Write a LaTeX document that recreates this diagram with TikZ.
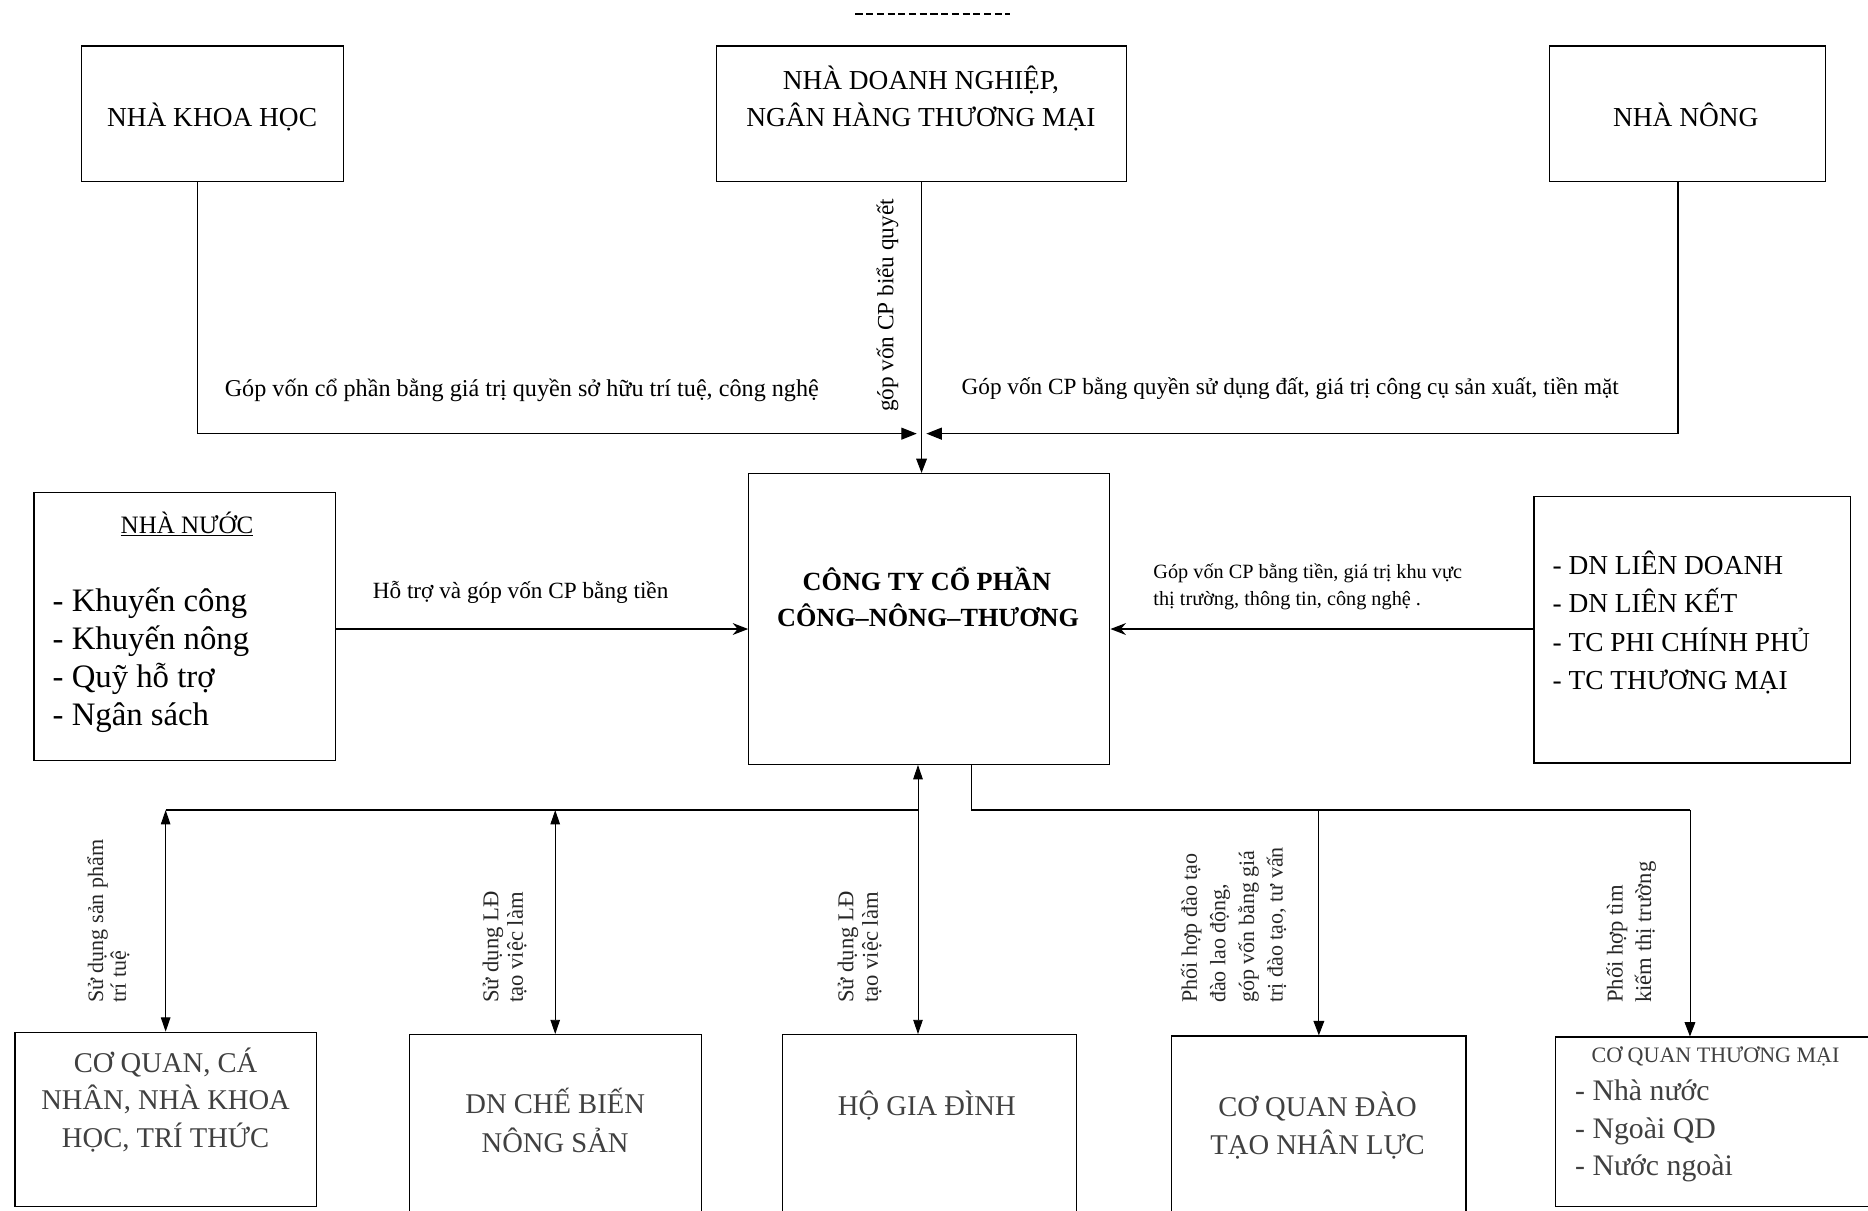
\documentclass[tikz,border=0pt]{standalone}
\usepackage{fontspec}
\setmainfont{Liberation Serif}
\usetikzlibrary{arrows.meta,calc}
\begin{document}
\begin{tikzpicture}[x=1pt,y=-1pt,
  box/.style={draw,line width=1.1pt,inner sep=0pt,anchor=north west},
  t/.style={inner sep=0pt,anchor=base},
  tl/.style={inner sep=0pt,anchor=base west},
  fA/.style={font=\fontsize{23}{27}\selectfont},
  fB/.style={font=\fontsize{22}{26}\selectfont\bfseries},
  fC/.style={font=\fontsize{21}{25}\selectfont},
  fD/.style={font=\fontsize{27.5}{31}\selectfont},
  fE/.style={font=\fontsize{24}{28}\selectfont},
  fL/.style={font=\fontsize{19.5}{23}\selectfont},
  fS/.style={font=\fontsize{17}{22}\selectfont},
  vl/.style={inner sep=0pt,rotate=90,anchor=north west,align=left,text=black!85},
  gr/.style={text=black!75},
  ln/.style={line width=1.1pt},
  arr/.style={ln,-{Triangle[length=13pt,width=10pt]}},
  arrs/.style={ln,-{Stealth[length=13pt,width=10pt]}},
  dbl/.style={line width=0.8pt,{Triangle[length=12pt,width=8pt]}-{Triangle[length=12pt,width=8pt]}},
  arrv/.style={line width=0.8pt,-{Triangle[length=12pt,width=9pt]}}
]
\useasboundingbox (0,0) rectangle (1568,1016);

% top dashes
\draw[line width=1.8pt,dash pattern=on 6pt off 3pt] (718,12) -- (848,12);

% top boxes
\node[box,minimum width=220pt,minimum height=114pt] (kh) at (68,38) {};
\node[t,fA] at (178,106) {NHÀ KHOA HỌC};
\node[box,minimum width=344pt,minimum height=114pt] (dn) at (601,38) {};
\node[t,fA] at (773,75) {NHÀ DOANH NGHIỆP,};
\node[t,fA] at (773,106) {NGÂN HÀNG THƯƠNG MẠI};
\node[box,minimum width=232pt,minimum height=114pt] (nn) at (1300,38) {};
\node[t,fA] at (1415,106) {NHÀ NÔNG};

% central box
\node[box,minimum width=303pt,minimum height=244pt] (ct) at (628,397) {};
\node[t,fB] at (778,496) {CÔNG TY CỔ PHẦN};
\node[t,fB] at (779,526) {CÔNG–NÔNG–THƯƠNG};

% left box
\node[box,minimum width=253pt,minimum height=225pt] (nuoc) at (28,413) {};
\node[t,fC] at (157,448) {\underline{NHÀ NƯỚC}};
\node[tl,fD] at (44,513) {- Khuyến công};
\node[tl,fD] at (44,545) {- Khuyến nông};
\node[tl,fD] at (44,577) {- Quỹ hỗ trợ};
\node[tl,fD] at (44,609) {- Ngân sách};

% right box
\node[box,minimum width=266pt,minimum height=224pt] (dnl) at (1287,416) {};
\node[tl,fA] at (1303,482) {- DN LIÊN DOANH};
\node[tl,fA] at (1303,514) {- DN LIÊN KẾT};
\node[tl,fA] at (1303,547) {- TC PHI CHÍNH PHỦ};
\node[tl,fA] at (1303,579) {- TC THƯƠNG MẠI};

% bottom boxes
\node[box,minimum width=253pt,minimum height=146pt] (b1) at (12,866) {};
\node[t,fE,gr] at (139,900) {CƠ QUAN, CÁ};
\node[t,fE,gr] at (139,931) {NHÂN, NHÀ KHOA};
\node[t,fE,gr] at (139,963) {HỌC, TRÍ THỨC};
\node[box,minimum width=245pt,minimum height=170pt] (b2) at (343,868) {};
\node[t,fE,gr] at (466,935) {DN CHẾ BIẾN};
\node[t,fE,gr] at (466,967) {NÔNG SẢN};
\node[box,minimum width=247pt,minimum height=170pt] (b3) at (656,868) {};
\node[t,fE,gr] at (778,936) {HỘ GIA ĐÌNH};
\node[box,minimum width=247pt,minimum height=170pt] (b4) at (983,869) {};
\node[t,fE,gr] at (1106,937) {CƠ QUAN ĐÀO};
\node[t,fE,gr] at (1106,969) {TẠO NHÂN LỰC};
\node[box,minimum width=280pt,minimum height=142pt] (b5) at (1305,870) {};
\node[t,font=\fontsize{18.5}{22}\selectfont,gr] at (1440,892) {CƠ QUAN THƯƠNG MẠI};
\node[tl,font=\fontsize{25}{29}\selectfont,gr] at (1322,924) {- Nhà nước};
\node[tl,font=\fontsize{25}{29}\selectfont,gr] at (1322,956) {- Ngoài QD};
\node[tl,font=\fontsize{25}{29}\selectfont,gr] at (1322,987) {- Nước ngoài};

% top connectors
\coordinate (j) at (dn.south |- 0,364);
\draw[arr] ([xshift=-13pt]kh.south) |- ([xshift=-4pt]j);
\draw[arr] ([xshift=-8pt]nn.south) |- ([xshift=4pt]j);
\draw[arrv] (dn.south) -- (dn.south |- ct.north);
\node[t,font=\fontsize{20.3}{23}\selectfont] at (438,333) {Góp vốn cổ phần bằng giá trị quyền sở hữu trí tuệ, công nghệ};
\node[t,fL] at (1083,331) {Góp vốn CP bằng quyền sử dụng đất, giá trị công cụ sản xuất, tiền mặt};
\node[inner sep=0pt,rotate=90,anchor=west,fL] at (745,346) {góp vốn CP biểu quyết};

% middle connectors
\draw[arrs] (nuoc.east |- 0,528) -- (ct.west |- 0,528);
\draw[arrs] (dnl.west |- 0,528) -- (ct.east |- 0,528);
\node[t,fL] at (437,502) {Hỗ trợ và góp vốn CP bằng tiền};
\node[tl,fS] at (968,486) {Góp vốn CP bằng tiền, giá trị khu vực};
\node[tl,fS] at (968,508) {thị trường, thông tin, công nghệ .};

% bottom connectors
\coordinate (busL) at (b1.north |- 0,680);
\coordinate (busC) at ([xshift=-9.5pt]ct.south |- 0,680);
\draw[ln] (busL) -- (busC);
\draw[dbl] (busL) -- (b1.north);
\draw[dbl] (b2.north |- 0,680) -- (b2.north);
\draw[dbl] ([xshift=-9.5pt]ct.south) -- ([xshift=-9.5pt]b3.north);
\coordinate (busR) at ([xshift=-27pt]b5.north |- 0,680);
\draw[ln] ([xshift=35.5pt]ct.south) |- (busR);
\draw[arrv] (busR) -- ([xshift=-27pt]b5.north);
\draw[arrv] (b4.north |- 0,680) -- (b4.north);

% bottom labels
\node[vl,font=\fontsize{18.5}{19}\selectfont] at (73,842) {Sử dụng sản phẩm\\trí tuệ};
\node[vl,font=\fontsize{19}{20.5}\selectfont] at (405,842) {Sử dụng LĐ\\tạo việc làm};
\node[vl,font=\fontsize{19}{20.5}\selectfont] at (703,842) {Sử dụng LĐ\\tạo việc làm};
\node[vl,font=\fontsize{18.5}{24}\selectfont] at (991,842) {Phối hợp đào tạo\\đào lao động,\\góp vốn bằng giá\\trị đào tạo, tư vấn};
\node[vl,font=\fontsize{19}{24}\selectfont] at (1348,842) {Phối hợp tìm\\kiếm thị trường};
\end{tikzpicture}
\end{document}
